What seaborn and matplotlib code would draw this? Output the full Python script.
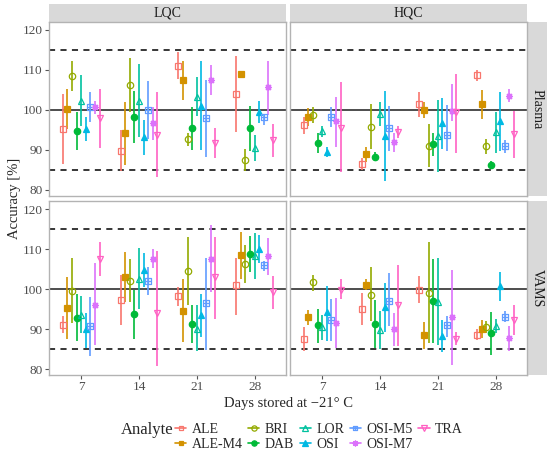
import matplotlib
matplotlib.use("Agg")
import matplotlib.pyplot as plt
from matplotlib.lines import Line2D
from matplotlib.patches import Rectangle
from matplotlib.path import Path
import numpy as np
import pandas as pd
import seaborn as sns

# ---------------------------------------------------------------------------
# Data: accuracy [%] with lower / upper bars, rows = days, cols = analytes
# ---------------------------------------------------------------------------
days = [7, 14, 21, 28]
analytes = ["ALE", "ALE-M4", "BRI", "DAB", "LOR", "OSI", "OSI-M5", "OSI-M7", "TRA"]
matrices = ["Plasma", "VAMS"]
levels = ["LQC", "HQC"]

plasma_lqc_acc = [[95.2, 100.3, 108.6, 94.85, 102.35, 95.2, 100.85, 100.85, 98.0],
                  [89.85, 94.25, 106.3, 98.2, 102.35, 93.35, 100.0, 96.7, 93.85],
                  [111.1, 107.5, 92.75, 95.5, 103.35, 101.1, 97.9, 107.5, 91.7],
                  [104.0, 109.0, 87.5, 95.5, 90.5, 99.6, 98.2, 105.7, 92.5]]
plasma_lqc_lo = [[86.5, 95.3, 104.85, 90.0, 96.1, 92.2, 96.9, 99.0, 90.5],
                 [84.85, 86.35, 99.4, 91.7, 93.2, 88.85, 92.75, 92.5, 83.35],
                 [107.8, 102.6, 91.1, 90.1, 98.6, 90.0, 88.2, 103.85, 87.95],
                 [94.45, 108.5, 84.85, 89.85, 87.2, 96.8, 96.35, 98.85, 88.35]]
plasma_lqc_hi = [[104.0, 105.3, 112.35, 99.4, 108.8, 98.2, 104.6, 102.35, 105.3],
                 [95.0, 101.9, 113.0, 104.7, 111.5, 97.6, 107.35, 100.85, 104.4],
                 [114.4, 112.35, 94.25, 100.85, 108.35, 112.2, 107.5, 111.35, 95.5],
                 [113.6, 109.5, 90.25, 101.1, 93.85, 102.2, 99.0, 112.2, 96.5]]

plasma_hqc_acc = [[96.25, 98.35, 98.85, 91.75, 94.85, 89.6, 98.35, 97.35, 95.5],
                  [86.5, 89.0, 95.85, 88.35, 99.0, 93.6, 95.5, 91.9, 94.6],
                  [101.5, 100.0, 90.95, 91.5, 93.6, 96.8, 93.85, 99.85, 99.4],
                  [108.8, 101.5, 90.95, 86.25, 94.45, 97.35, 90.95, 103.6, 94.0]]
plasma_hqc_lo = [[94.0, 96.1, 96.85, 89.25, 93.35, 88.35, 95.7, 90.85, 84.45],
                 [85.0, 87.1, 90.25, 87.2, 96.1, 82.35, 89.85, 89.6, 93.0],
                 [98.2, 97.95, 85.7, 88.6, 84.45, 90.25, 89.85, 97.35, 89.25],
                 [107.2, 97.75, 89.0, 85.25, 89.2, 89.85, 89.2, 102.1, 88.0]]
plasma_hqc_hi = [[98.2, 100.5, 100.85, 94.2, 96.1, 90.7, 100.85, 103.35, 106.9],
                 [88.0, 90.85, 101.5, 89.4, 101.9, 104.85, 101.1, 94.2, 96.1],
                 [104.6, 102.1, 96.5, 94.2, 102.6, 102.9, 101.35, 106.5, 109.0],
                 [110.0, 105.1, 92.75, 87.35, 99.4, 104.6, 92.5, 105.3, 99.85]]

vams_lqc_acc = [[91.1, 95.3, 99.6, 92.8, 93.45, 89.9, 90.7, 96.1, 107.5],
                [97.2, 102.95, 102.1, 93.8, 102.6, 104.7, 101.95, 107.6, 93.9],
                [98.2, 94.6, 104.6, 91.35, 90.1, 93.45, 96.4, 107.6, 103.0],
                [100.9, 108.45, 106.35, 108.8, 108.35, 110.1, 105.9, 108.2, 99.2]]
vams_lqc_lo = [[88.9, 87.5, 91.5, 86.95, 88.9, 85.3, 83.2, 85.9, 103.2],
               [91.1, 96.7, 96.7, 87.6, 95.0, 100.5, 98.4, 105.3, 80.85],
               [95.7, 86.7, 96.1, 86.4, 84.45, 87.95, 84.7, 99.3, 92.5],
               [93.45, 102.6, 101.4, 104.2, 102.6, 106.5, 104.45, 103.6, 95.0]]
vams_lqc_hi = [[93.35, 102.95, 107.8, 98.85, 98.2, 93.9, 97.95, 106.4, 111.8],
               [103.6, 109.2, 107.5, 99.85, 110.3, 109.0, 105.5, 110.0, 109.45],
               [100.45, 102.5, 112.95, 95.95, 95.95, 98.85, 107.8, 116.1, 112.95],
               [107.8, 114.3, 111.1, 113.2, 113.9, 113.45, 107.1, 112.8, 103.2]]

vams_hqc_acc = [[87.5, 92.95, 101.7, 90.95, 90.5, 94.2, 92.35, 91.5, 99.85],
                [95.0, 100.95, 98.6, 91.3, 89.7, 95.45, 96.95, 89.9, 95.95],
                [99.7, 88.4, 98.9, 96.95, 96.8, 88.2, 91.1, 93.05, 87.4],
                [88.45, 90.0, 90.5, 88.9, 90.7, 100.7, 93.05, 87.8, 92.2]]
vams_hqc_lo = [[84.45, 91.1, 99.6, 86.5, 87.2, 87.1, 86.95, 85.3, 97.4],
               [91.1, 99.7, 91.95, 85.3, 85.0, 89.3, 90.7, 85.7, 85.7],
               [96.4, 84.9, 86.4, 86.5, 85.9, 84.2, 88.0, 81.1, 85.9],
               [87.2, 87.8, 89.0, 83.45, 89.0, 96.95, 91.7, 84.45, 88.6]]
vams_hqc_hi = [[90.45, 94.7, 103.45, 95.1, 93.6, 100.7, 97.5, 97.8, 102.4],
               [99.0, 102.4, 105.45, 97.2, 94.6, 101.4, 103.9, 94.0, 105.95],
               [103.35, 91.8, 111.7, 107.5, 107.8, 92.2, 93.35, 104.7, 89.2],
               [89.9, 92.2, 91.95, 94.2, 92.6, 104.3, 94.45, 90.7, 96.1]]

panels = {
    ("Plasma", "LQC"): (plasma_lqc_acc, plasma_lqc_lo, plasma_lqc_hi),
    ("Plasma", "HQC"): (plasma_hqc_acc, plasma_hqc_lo, plasma_hqc_hi),
    ("VAMS", "LQC"): (vams_lqc_acc, vams_lqc_lo, vams_lqc_hi),
    ("VAMS", "HQC"): (vams_hqc_acc, vams_hqc_lo, vams_hqc_hi),
}

rows = []
for (mat, lev), (acc, lo, hi) in panels.items():
    for d, day in enumerate(days):
        for a, name in enumerate(analytes):
            rows.append(dict(Matrix=mat, QC=lev, Day=day, Analyte=name,
                             acc=acc[d][a], lo=lo[d][a], hi=hi[d][a]))
df = pd.DataFrame(rows)

# ---------------------------------------------------------------------------
# Styling
# ---------------------------------------------------------------------------
sns.set_theme(style="ticks")
plt.rcParams["font.family"] = ["Liberation Serif", "DejaVu Serif"]

palette = ["#F8766D", "#D39200", "#93AA00", "#00BA38", "#00C19F",
           "#00B9E3", "#619CFF", "#DB72FB", "#FF61C3"]
sq_cross = Path([(-1, -1), (1, -1), (1, 1), (-1, 1), (-1, -1),
                 (0, -1), (0, 1), (-1, 0), (1, 0)],
                [Path.MOVETO, Path.LINETO, Path.LINETO, Path.LINETO, Path.CLOSEPOLY,
                 Path.MOVETO, Path.LINETO, Path.MOVETO, Path.LINETO])
markers = ["s", "s", "o", "o", "^", "^", sq_cross, (8, 2, 0), "v"]
filled = [False, True, False, True, False, True, False, False, False]
msizes = [4.3, 4.3, 4.6, 4.6, 5.0, 5.0, 4.3, 5.0, 5.0]
dodge_w = 5.0


def draw_panel(data, **kws):
    ax = plt.gca()
    ax.axhline(100, color="#4D4D4D", lw=1.4, zorder=1)
    for yv in (85, 115):
        ax.axhline(yv, color="black", lw=1.1, ls=(0, (4, 3.5)), zorder=1)
    for i, name in enumerate(analytes):
        sub = data[data["Analyte"] == name]
        x = sub["Day"] + (i - 4) * dodge_w / 9
        ax.vlines(x, sub["lo"], sub["hi"], color=palette[i], lw=1.2, zorder=2)
        ax.plot(x, sub["acc"], ls="none", marker=markers[i], ms=msizes[i],
                mfc=palette[i] if filled[i] else "none", mec=palette[i],
                mew=0.9, zorder=3)


g = sns.FacetGrid(df, row="Matrix", col="QC", row_order=matrices, col_order=levels,
                  height=2.2, aspect=1.25, despine=False, sharex=True, sharey=True)
g.map_dataframe(draw_panel)
g.set_titles("")
g.set_axis_labels("", "")

fig = g.figure
fig.set_size_inches(5.5, 4.53)
fig.subplots_adjust(left=49 / 550, right=527 / 550, top=1 - 22 / 453,
                    bottom=1 - 375 / 453, wspace=4 / 237, hspace=5 / 174)

for r in range(2):
    for c in range(2):
        ax = g.axes[r, c]
        ax.set_xlim(3.1, 31.8)
        ax.set_ylim(78.5, 122)
        ax.set_xticks(days)
        ax.set_yticks([80, 90, 100, 110, 120])
        ax.grid(False)
        for sp in ax.spines.values():
            sp.set_color("#B3B3B3")
            sp.set_linewidth(1.0)
        ax.tick_params(length=3, width=0.8, color="#555555", labelcolor="#4D4D4D",
                       labelsize=9.5, pad=1.5,
                       left=(c == 0), bottom=(r == 1))
        if r == 0:
            ax.add_patch(Rectangle((0, 1.0), 1, 18 / 174, transform=ax.transAxes,
                                   clip_on=False, fc="#D9D9D9", ec="none"))
            ax.text(0.5, 1 + 9 / 174, levels[c], transform=ax.transAxes,
                    ha="center", va="center", fontsize=10, color="#1A1A1A")
        if c == 1:
            ax.add_patch(Rectangle((1 + 1 / 237, 0), 19 / 237, 1, transform=ax.transAxes,
                                   clip_on=False, fc="#D9D9D9", ec="none"))
            ax.text(1 + 10.5 / 237, 0.5, matrices[r], transform=ax.transAxes,
                    ha="center", va="center", rotation=-90, fontsize=10,
                    color="#1A1A1A")

fig.text(15 / 550, 1 - 198.5 / 453, "Accuracy [%]", rotation=90,
         ha="center", va="center", fontsize=10.5)
fig.text(288 / 550, 1 - 404 / 453, "Days stored at \u221221\u00b0 C",
         ha="center", va="center", fontsize=10.5)

handles = [Line2D([0], [0], color=palette[i], lw=1.2, marker=markers[i],
                  ms=msizes[i] - 0.8, mfc=palette[i] if filled[i] else "none",
                  mec=palette[i], mew=0.9) for i in range(len(analytes))]
fig.legend(handles, analytes, ncol=5, loc="center left",
           bbox_to_anchor=(175 / 550, 1 - 437 / 453), frameon=False,
           fontsize=10, handlelength=0.8, handletextpad=0.4, columnspacing=0.4,
           labelspacing=0.15, borderpad=0, borderaxespad=0)
fig.text(173 / 550, 1 - 430 / 453, "Analyte", ha="right", va="center", fontsize=12)

fig.savefig("out.png", dpi=100)
